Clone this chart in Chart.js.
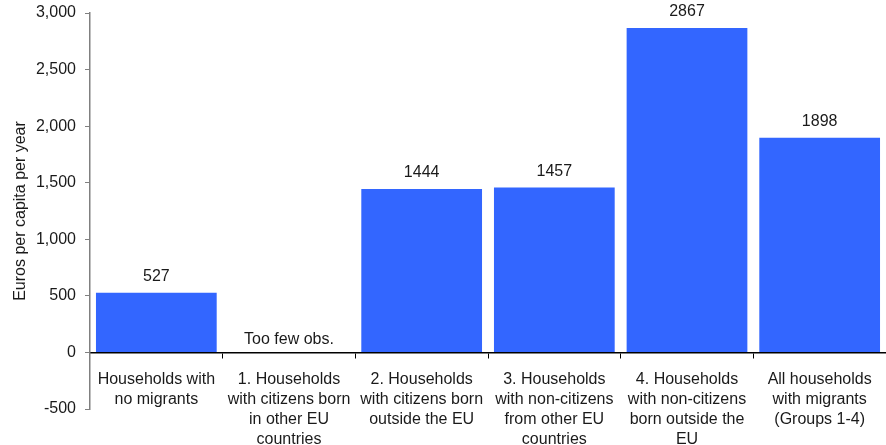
<!DOCTYPE html>
<html>
<head>
<meta charset="utf-8">
<script src="https://cdn.jsdelivr.net/npm/chart.js@4/dist/chart.umd.min.js"></script>
<style>
  html, body { margin: 0; padding: 0; background: #fff; }
  #wrap { width: 886px; height: 445px; }
</style>
</head>
<body>
<div id="wrap"><canvas id="myChart"></canvas></div>
<script>
// chart data
const categories = [
    ['Households with', 'no migrants'],
    ['1. Households', 'with citizens born', 'in other EU', 'countries'],
    ['2. Households', 'with citizens born', 'outside the EU'],
    ['3. Households', 'with non-citizens', 'from other EU', 'countries'],
    ['4. Households', 'with non-citizens', 'born outside the', 'EU'],
    ['All households', 'with migrants', '(Groups 1-4)']
];
const values = [527, null, 1444, 1457, 2867, 1898];
const notes = [null, 'Too few obs.', null, null, null, null];
const yTicks = [-500, 0, 500, 1000, 1500, 2000, 2500, 3000];

Chart.defaults.font.family = '"Liberation Sans", Arial, sans-serif';
Chart.defaults.font.size = 16;
Chart.defaults.color = '#1a1a1a';

// value labels above the bars
const barLabels = {
    id: 'barLabels',
    afterDatasetsDraw(chart) {
        const ctx = chart.ctx;
        const meta = chart.getDatasetMeta(0);
        const zero = chart.scales.y.getPixelForValue(0);
        ctx.save();
        ctx.font = '16px "Liberation Sans", Arial, sans-serif';
        ctx.fillStyle = '#1a1a1a';
        ctx.textAlign = 'center';
        ctx.textBaseline = 'middle';
        meta.data.forEach((bar, i) => {
            if (values[i] !== null) {
                ctx.fillText(String(values[i]), bar.x, bar.y - 16);
            } else if (notes[i]) {
                ctx.fillText(notes[i], chart.scales.x.getPixelForValue(i), zero - 13);
            }
        });
        ctx.restore();
    }
};

const ctx = document.getElementById('myChart').getContext('2d');
new Chart(ctx, {
    type: 'bar',
    data: {
        labels: categories,
        datasets: [{
            data: values,
            backgroundColor: '#3366ff',
            borderWidth: 0,
            barPercentage: 0.91,
            categoryPercentage: 1
        }]
    },
    options: {
        responsive: true,
        maintainAspectRatio: false,
        animation: false,
        layout: {
            padding: { top: 3, right: 0, bottom: 36, left: 0 }
        },
        scales: {
            x: {
                position: { y: 0 },
                grid: {
                    display: true,
                    drawOnChartArea: false,
                    drawTicks: true,
                    tickLength: 5,
                    color: '#000',
                    offset: true
                },
                border: { color: '#000', width: 1.5 },
                ticks: {
                    maxRotation: 0,
                    autoSkip: false,
                    padding: 12,
                    color: '#1a1a1a',
                    font: { size: 16, lineHeight: 1.25 }
                }
            },
            y: {
                min: -500,
                max: 3000,
                afterBuildTicks(scale) {
                    scale.ticks = yTicks.map(v => ({ value: v }));
                },
                afterFit(scale) {
                    scale.width = 90;
                },
                grid: {
                    drawOnChartArea: false,
                    drawTicks: true,
                    tickLength: 5,
                    color: '#808080'
                },
                border: { color: '#808080', width: 1.5 },
                ticks: {
                    padding: 9,
                    color: '#1a1a1a',
                    font: { size: 16, lineHeight: 0.5 },
                    callback: v => v.toLocaleString('en-US')
                },
                title: {
                    display: true,
                    text: 'Euros per capita per year',
                    color: '#1a1a1a',
                    font: { size: 16, lineHeight: 1.2 },
                    padding: { top: 11, bottom: 8 }
                }
            }
        },
        plugins: {
            legend: { display: false },
            tooltip: { enabled: false }
        }
    },
    plugins: [barLabels]
});
</script>
</body>
</html>
